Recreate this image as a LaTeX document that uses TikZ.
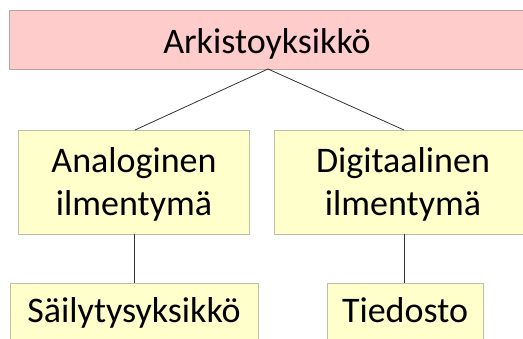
\documentclass[tikz,border=0pt]{standalone}
\usepackage{fontspec}
\setmainfont{Carlito}
\definecolor{pinkfill}{HTML}{FFCCCC}
\definecolor{pinkline}{HTML}{BFA3A3}
\definecolor{yelfill}{HTML}{FFFFCC}
\definecolor{yelline}{HTML}{BFBFA8}
\begin{document}
\begin{tikzpicture}[x=1pt,y=-1pt,
  box/.style={draw=yelline,fill=yelfill,line width=0.8pt},
  topbox/.style={draw=pinkline,fill=pinkfill,line width=0.8pt},
  lbl/.style={font=\fontsize{36}{43}\selectfont,align=center,inner sep=0pt},
  conn/.style={draw=black!80,line width=0.8pt}]
\useasboundingbox (0,0) rectangle (523,338);
\clip (0,0) rectangle (523,338);
\path[topbox] (9,10) rectangle (540,69);
\node[lbl,anchor=base] (top) at (267,53) {Arkistoyksikkö};
\coordinate (topb) at (268,69);
\path[box] (18,130) rectangle (249,234);
\path[box] (274,130) rectangle (540,234);
\node[lbl,anchor=base] (ana) at (134,172) {Analoginen};
\node[lbl,anchor=base] (ana2) at (134,215) {ilmentymä};
\node[lbl,anchor=base] (dig) at (403,172) {Digitaalinen};
\node[lbl,anchor=base] (dig2) at (403,215) {ilmentymä};
\coordinate (anat) at (135,130);
\coordinate (digt) at (404,130);
\coordinate (anab) at (134,234);
\coordinate (digb) at (404,234);
\path[box] (10,283) rectangle (258,350);
\path[box] (327,283) rectangle (483,350);
\node[lbl,anchor=base] (sai) at (134,322) {Säilytysyksikkö};
\node[lbl,anchor=base] (tie) at (405,322) {Tiedosto};
\coordinate (said) at (134,283);
\coordinate (tiet) at (404,283);
\draw[conn] (topb) -- (anat);
\draw[conn] (topb) -- (digt);
\draw[conn] (anab) -- (said);
\draw[conn] (digb) -- (tiet);
\end{tikzpicture}
\end{document}
